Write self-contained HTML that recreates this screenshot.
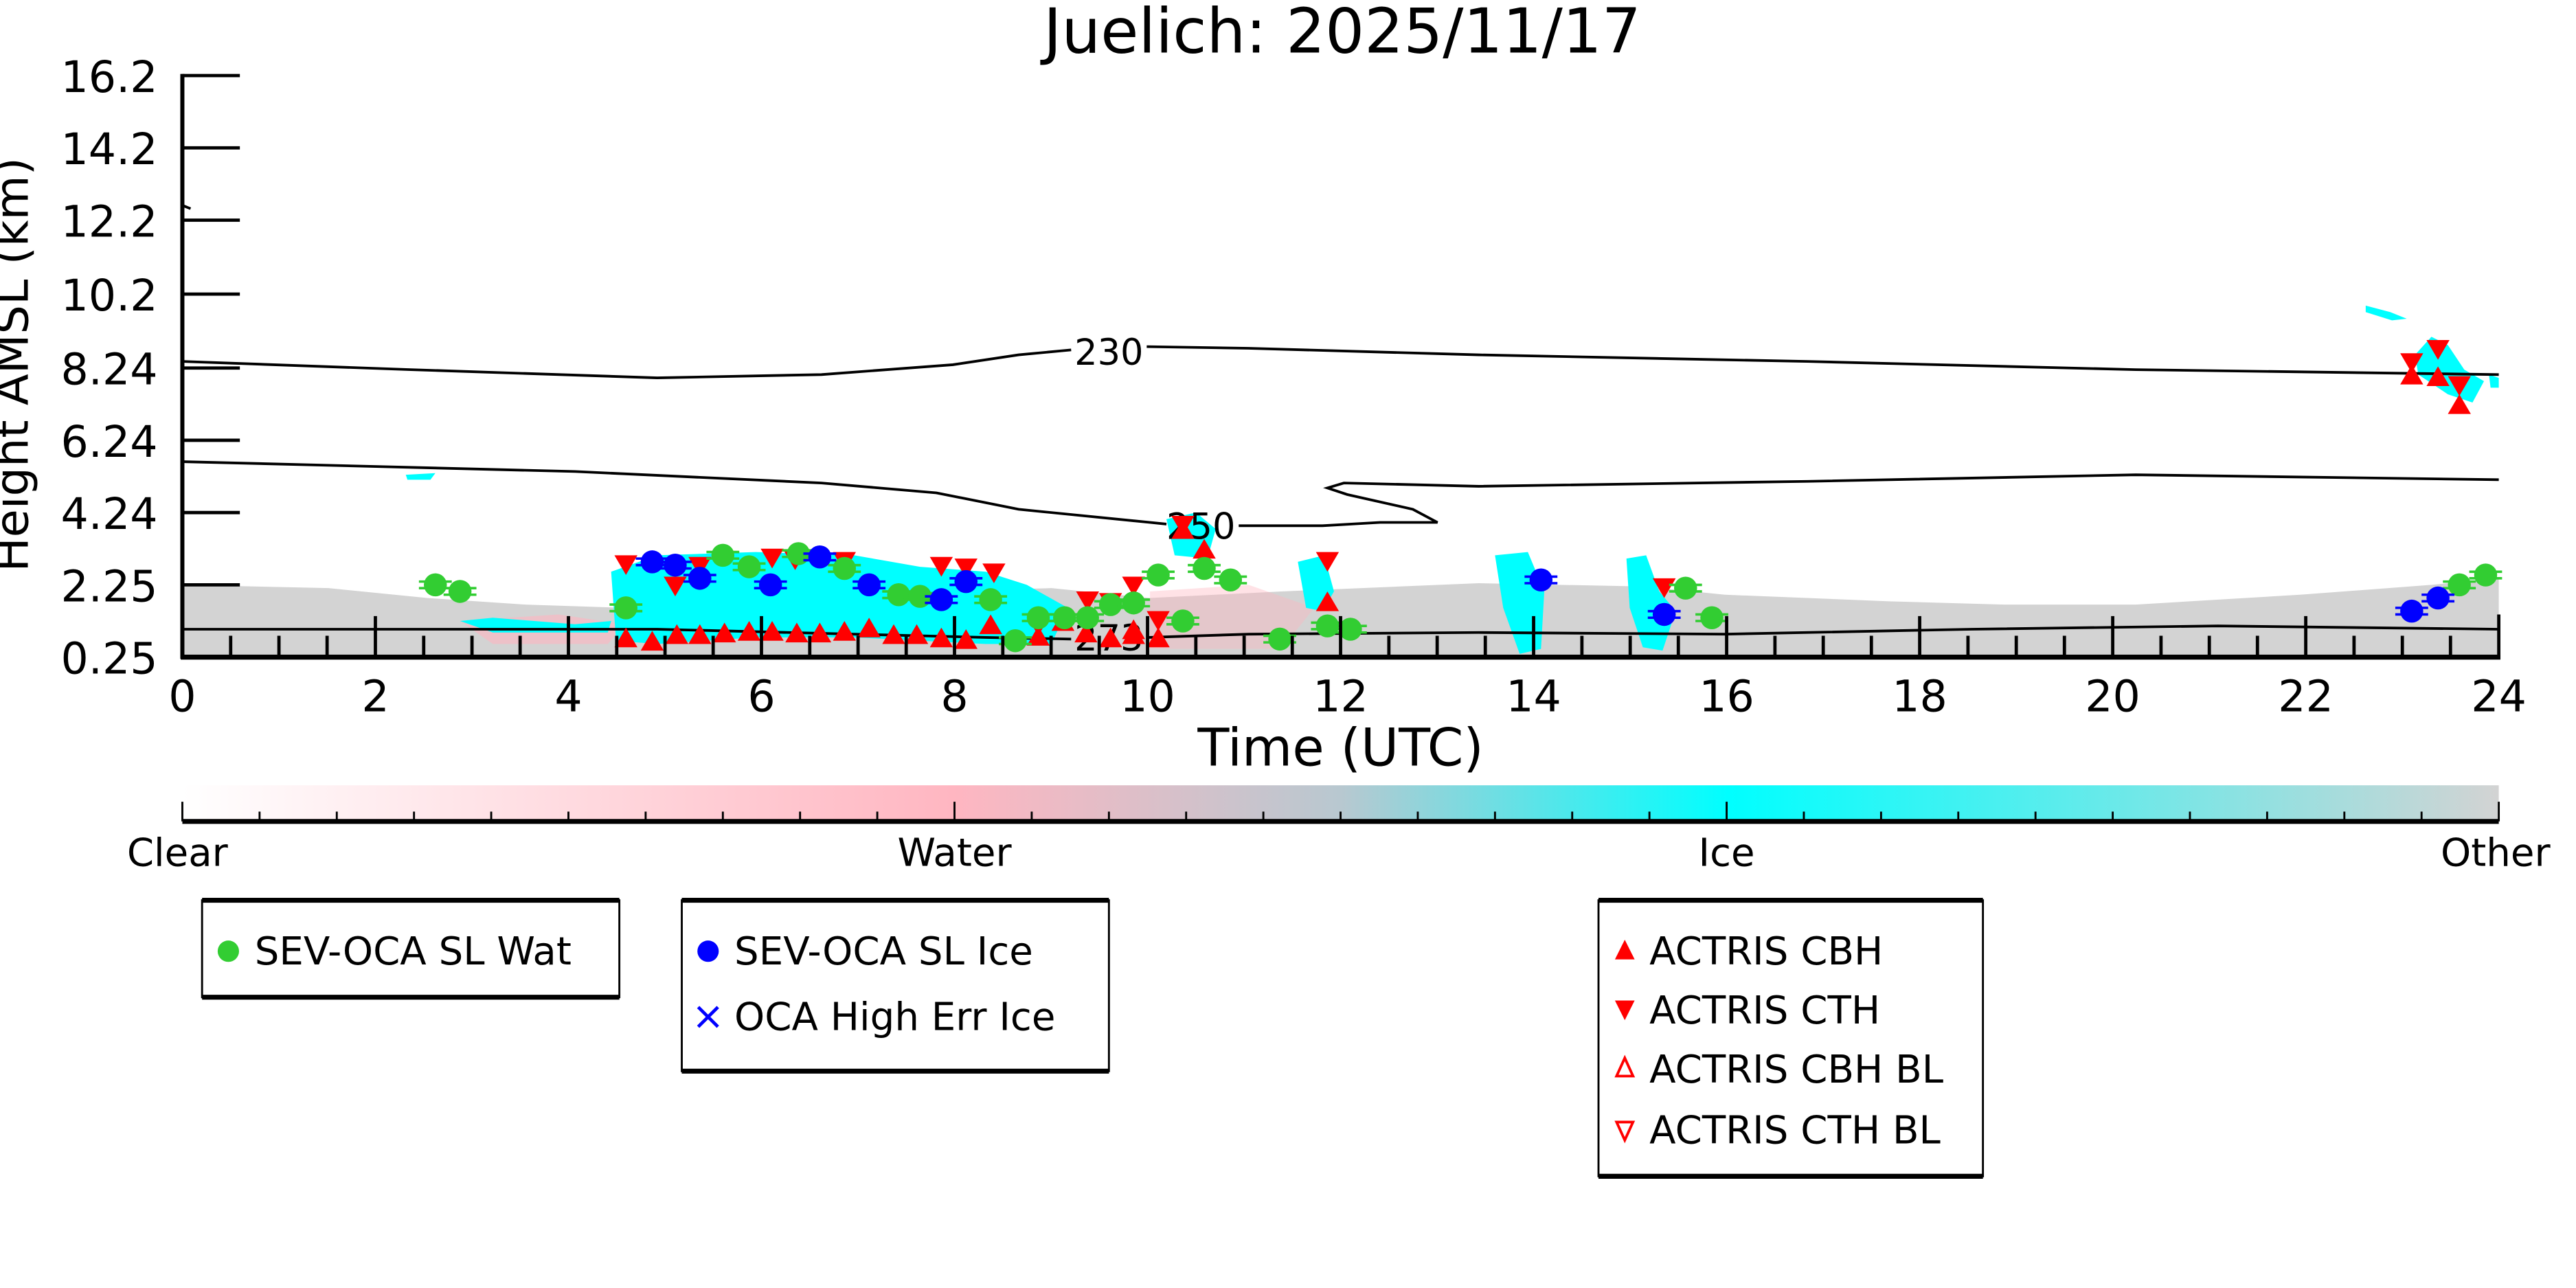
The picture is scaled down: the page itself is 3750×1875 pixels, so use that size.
<!DOCTYPE html>
<html><head><meta charset="utf-8"><style>
html,body{margin:0;padding:0;background:#fff;}
svg{display:block;}
text{font-family:"DejaVu Sans","Liberation Sans",sans-serif;}
</style></head><body>
<svg width="3750" height="1875" viewBox="0 0 1568 784" xmlns="http://www.w3.org/2000/svg">
<defs>
<linearGradient id="cb" x1="0" x2="1" y1="0" y2="0">
<stop offset="0" stop-color="#ffffff"/><stop offset="0.333" stop-color="#ffb6c1"/>
<stop offset="0.5" stop-color="#b8c8d0"/>
<stop offset="0.667" stop-color="#00ffff"/><stop offset="1" stop-color="#d3d3d3"/>
</linearGradient>
<path id="up" d="M0,-6 L7,6 L-7,6Z" fill="#ff0000"/>
<path id="dn" d="M0,6 L7,-6 L-7,-6Z" fill="#ff0000"/>
<g id="gc"><line x1="-10" y1="-2" x2="10" y2="-2" stroke="#32cd32" stroke-width="1.5"/><line x1="-10" y1="2" x2="10" y2="2" stroke="#32cd32" stroke-width="1.5"/><circle r="7" fill="#32cd32"/></g>
<g id="bc"><line x1="-10" y1="-2" x2="10" y2="-2" stroke="#0000ff" stroke-width="1.5"/><line x1="-10" y1="2" x2="10" y2="2" stroke="#0000ff" stroke-width="1.5"/><circle r="7" fill="#0000ff"/></g>
</defs>

<text x="817" y="32" font-size="37.5" text-anchor="middle">Juelich: 2025/11/17</text>

<!-- gray band -->
<path d="M111,400 L111,356 L200,358 L260,364 L320,368 L380,370 L450,365 L560,360 L640,358 L700,364 L780,360 L900,355 L1000,357 L1050,362 L1150,366 L1220,368 L1300,368 L1400,362 L1480,356 L1521,352 L1521,400Z" fill="#d3d3d3"/>
<path d="M280,378 L340,374 L380,380 L370,392 L300,392Z" fill="#ffb6c1" opacity="0.6"/>
<path d="M700,360 L760,356 L800,370 L780,395 L700,395Z" fill="#ffb6c1" opacity="0.4"/>
<path d="M372,348 L400,338 L460,336 L520,338 L560,345 L600,348 L625,356 L650,370 L640,392 L600,392 L560,390 L520,388 L460,388 L400,392 L375,390Z" fill="#00ffff"/>
<path d="M280,378 L300,376 L350,380 L372,378 L370,385 L300,385Z" fill="#00ffff"/>
<path d="M910,338 L930,336 L940,360 L938,395 L925,398 L915,370Z" fill="#00ffff"/>
<path d="M990,340 L1002,338 L1010,360 L1020,372 L1012,396 L1000,394 L992,370Z" fill="#00ffff"/>
<path d="M790,342 L806,338 L812,360 L805,372 L795,370Z" fill="#00ffff"/>
<path d="M1470,216 L1480,205 L1490,210 L1500,225 L1512,232 L1505,245 L1490,240 L1472,228Z" fill="#00ffff"/>
<path d="M1440,186 L1455,190 L1465,194 L1456,195 L1440,190Z" fill="#00ffff"/>
<path d="M1515,228 L1521,230 L1521,236 L1516,236Z" fill="#00ffff"/>
<path d="M710,316 L728,312 L740,322 L735,340 L715,338Z" fill="#00ffff"/>
<path d="M247,289 L265,288 L262,292 L248,292Z" fill="#00ffff"/>

<g fill="none" stroke="#000" stroke-width="1.6">
<path d="M111,220 L250,225 L400,230 L500,228 L580,222 L620,216 L652,213"/>
<path d="M698,211 L760,212 L900,216 L1100,220 L1300,225 L1521,228"/>
<path d="M111,281 L350,287 L500,294 L570,300 L620,310 L700,318 L710,319"/>
<path d="M754,320 L805,320 L840,318 L875,318 L860,310 L820,301 L808,297 L818,294 L900,296 L1100,293 L1300,289 L1521,292"/>
<path d="M111,383 L400,383 L520,386 L600,388 L652,389"/>
<path d="M699,388 L760,386 L900,385 L1050,386 L1200,383 L1350,381 L1521,383"/>
<path d="M111,125 L116,127"/>
</g>
<text x="675" y="222" font-size="22" text-anchor="middle">230</text>
<text x="731" y="328" font-size="22" text-anchor="middle">250</text>
<text x="675" y="396" font-size="22" text-anchor="middle">273</text>

<g>
<use href="#up" x="381" y="388"/><use href="#up" x="397" y="390"/><use href="#up" x="412" y="386"/><use href="#up" x="426" y="386"/><use href="#up" x="441" y="385"/><use href="#up" x="456" y="384"/><use href="#up" x="470" y="384"/><use href="#up" x="485" y="385"/><use href="#up" x="499" y="385"/><use href="#up" x="514" y="384"/><use href="#up" x="529" y="382"/><use href="#up" x="544" y="386"/><use href="#up" x="558" y="386"/><use href="#up" x="573" y="388"/><use href="#up" x="588" y="389"/><use href="#up" x="603" y="380"/><use href="#up" x="632" y="387"/><use href="#up" x="661" y="385"/><use href="#up" x="676" y="388"/><use href="#up" x="690" y="386"/><use href="#up" x="705" y="388"/><use href="#up" x="720" y="322"/><use href="#up" x="733" y="334"/><use href="#up" x="808" y="366"/><use href="#up" x="690" y="383"/><use href="#up" x="647" y="378"/>
<use href="#dn" x="381" y="344"/><use href="#dn" x="411" y="357"/><use href="#dn" x="426" y="345"/><use href="#dn" x="470" y="340"/><use href="#dn" x="484" y="341"/><use href="#dn" x="514" y="342"/><use href="#dn" x="573" y="345"/><use href="#dn" x="588" y="346"/><use href="#dn" x="605" y="349"/><use href="#dn" x="632" y="381"/><use href="#dn" x="662" y="366"/><use href="#dn" x="676" y="367"/><use href="#dn" x="690" y="357"/><use href="#dn" x="705" y="378"/><use href="#dn" x="720" y="320"/><use href="#dn" x="808" y="342"/><use href="#dn" x="1013" y="358"/>
<use href="#dn" x="1468" y="221"/><use href="#up" x="1468" y="228"/><use href="#dn" x="1484" y="213"/><use href="#up" x="1484" y="229"/><use href="#dn" x="1497" y="235"/><use href="#up" x="1497" y="246"/>
<use href="#gc" x="265" y="356"/><use href="#gc" x="280" y="360"/><use href="#gc" x="381" y="370"/><use href="#gc" x="440" y="338"/><use href="#gc" x="456" y="345"/><use href="#gc" x="486" y="337"/><use href="#gc" x="514" y="346"/><use href="#gc" x="547" y="362"/><use href="#gc" x="560" y="363"/><use href="#gc" x="603" y="365"/><use href="#gc" x="618" y="390"/><use href="#gc" x="632" y="376"/><use href="#gc" x="648" y="376"/><use href="#gc" x="662" y="376"/><use href="#gc" x="676" y="368"/><use href="#gc" x="690" y="367"/><use href="#gc" x="705" y="350"/><use href="#gc" x="720" y="378"/><use href="#gc" x="733" y="346"/><use href="#gc" x="749" y="353"/><use href="#gc" x="779" y="389"/><use href="#gc" x="808" y="381"/><use href="#gc" x="822" y="383"/><use href="#gc" x="1026" y="358"/><use href="#gc" x="1042" y="376"/><use href="#gc" x="1497" y="356"/><use href="#gc" x="1513" y="350"/>
<use href="#bc" x="397" y="342"/><use href="#bc" x="411" y="344"/><use href="#bc" x="426" y="352"/><use href="#bc" x="469" y="356"/><use href="#bc" x="499" y="339"/><use href="#bc" x="529" y="356"/><use href="#bc" x="573" y="365"/><use href="#bc" x="588" y="354"/><use href="#bc" x="938" y="353"/><use href="#bc" x="1013" y="374"/><use href="#bc" x="1468" y="372"/><use href="#bc" x="1484" y="364"/>
</g>

<g stroke="#000">
<line x1="111" y1="45" x2="111" y2="401" stroke-width="2.5"/>
<line x1="110" y1="400" x2="1522" y2="400" stroke-width="3"/>
<line x1="1521" y1="374" x2="1521" y2="401" stroke-width="2"/>
<g stroke-width="2">
<line x1="111" y1="46" x2="146" y2="46"/><line x1="111" y1="90" x2="146" y2="90"/><line x1="111" y1="134" x2="146" y2="134"/><line x1="111" y1="179" x2="146" y2="179"/><line x1="111" y1="224" x2="146" y2="224"/><line x1="111" y1="268" x2="146" y2="268"/><line x1="111" y1="312" x2="146" y2="312"/><line x1="111" y1="356" x2="146" y2="356"/>
</g>
<g stroke-width="2">
<path d="M228.5,400v-25M346,400v-25M463.5,400v-25M581,400v-25M698.5,400v-25M816,400v-25M933.5,400v-25M1051,400v-25M1168.5,400v-25M1286,400v-25M1403.5,400v-25"/>
<path d="M140.4,400v-13M169.8,400v-13M199.1,400v-13M257.9,400v-13M287.3,400v-13M316.6,400v-13M375.4,400v-13M404.8,400v-13M434.1,400v-13M492.9,400v-13M522.3,400v-13M551.6,400v-13M610.4,400v-13M639.8,400v-13M669.1,400v-13M727.9,400v-13M757.3,400v-13M786.6,400v-13M845.4,400v-13M874.8,400v-13M904.1,400v-13M962.9,400v-13M992.3,400v-13M1021.6,400v-13M1080.4,400v-13M1109.8,400v-13M1139.1,400v-13M1197.9,400v-13M1227.3,400v-13M1256.6,400v-13M1315.4,400v-13M1344.8,400v-13M1374.1,400v-13M1432.9,400v-13M1462.3,400v-13M1491.6,400v-13"/>
</g>
</g>
<g font-size="26.5" text-anchor="end">
<text x="96" y="56">16.2</text><text x="96" y="100">14.2</text><text x="96" y="144">12.2</text><text x="96" y="189">10.2</text><text x="96" y="234">8.24</text><text x="96" y="278">6.24</text><text x="96" y="322">4.24</text><text x="96" y="366">2.25</text><text x="96" y="410">0.25</text>
</g>
<text transform="translate(17,222) rotate(-90)" font-size="28" text-anchor="middle">Height AMSL (km)</text>
<g font-size="26.5" text-anchor="middle">
<text x="111" y="433">0</text><text x="228.5" y="433">2</text><text x="346" y="433">4</text><text x="463.5" y="433">6</text><text x="581" y="433">8</text><text x="698.5" y="433">10</text><text x="816" y="433">12</text><text x="933.5" y="433">14</text><text x="1051" y="433">16</text><text x="1168.5" y="433">18</text><text x="1286" y="433">20</text><text x="1403.5" y="433">22</text><text x="1521" y="433">24</text>
</g>
<text x="816" y="466" font-size="31.5" text-anchor="middle">Time (UTC)</text>

<rect x="111" y="478" width="1410" height="22" fill="url(#cb)"/>
<line x1="111" y1="500" x2="1521" y2="500" stroke="#000" stroke-width="3"/>
<g stroke="#000" stroke-width="1.2">
<path d="M111,500v-12M581,500v-12M1051,500v-12M1521,500v-12"/>
<path d="M158,500v-6M205,500v-6M252,500v-6M299,500v-6M346,500v-6M393,500v-6M440,500v-6M487,500v-6M534,500v-6M628,500v-6M675,500v-6M722,500v-6M769,500v-6M816,500v-6M863,500v-6M910,500v-6M957,500v-6M1004,500v-6M1098,500v-6M1145,500v-6M1192,500v-6M1239,500v-6M1286,500v-6M1333,500v-6M1380,500v-6M1427,500v-6M1474,500v-6"/>
</g>
<g font-size="23.5" text-anchor="middle">
<text x="108" y="527">Clear</text><text x="581" y="527">Water</text><text x="1051" y="527">Ice</text><text x="1519" y="527">Other</text>
</g>

<g fill="none" stroke="#000">
<rect x="123" y="548" width="254" height="59" stroke-width="1.2"/>
<path d="M123,548h254M123,607h254" stroke-width="3"/>
<rect x="415" y="548" width="260" height="104" stroke-width="1.2"/>
<path d="M415,548h260M415,652h260" stroke-width="3"/>
<rect x="973" y="548" width="234" height="168" stroke-width="1.2"/>
<path d="M973,548h234M973,716h234" stroke-width="3"/>
</g>
<circle cx="139" cy="579" r="6.5" fill="#32cd32"/>
<circle cx="431" cy="579" r="6.5" fill="#0000ff"/>
<path d="M425,613 L437,625 M437,613 L425,625" stroke="#0000ff" stroke-width="2"/>
<path d="M989,572 L995,584 L983,584Z" fill="#ff0000"/>
<path d="M989,621 L995,609 L983,609Z" fill="#ff0000"/>
<path d="M989,644 L994,655 L984,655Z" fill="none" stroke="#ff0000" stroke-width="1.6"/>
<path d="M989,694 L994,683 L984,683Z" fill="none" stroke="#ff0000" stroke-width="1.6"/>
<g font-size="23.5">
<text x="155" y="587">SEV-OCA SL Wat</text>
<text x="447" y="587">SEV-OCA SL Ice</text>
<text x="447" y="627">OCA High Err Ice</text>
<text x="1004" y="587">ACTRIS CBH</text>
<text x="1004" y="623">ACTRIS CTH</text>
<text x="1004" y="659">ACTRIS CBH BL</text>
<text x="1004" y="696">ACTRIS CTH BL</text>
</g>
</svg>
</body></html>
